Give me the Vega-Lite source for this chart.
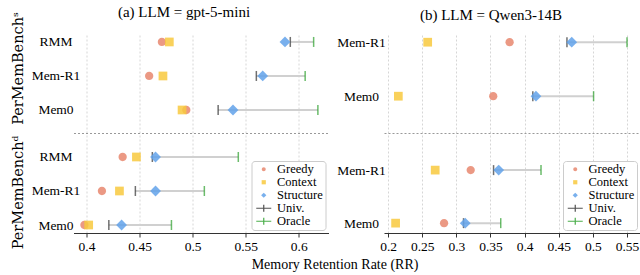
{
  "$schema": "https://vega.github.io/schema/vega-lite/v6.json",
  "padding": {"left": 9.5, "top": 5, "right": 0, "bottom": 0},
  "datasets": {
    "rr": [
      {"llm": "gpt-5-mini", "bench": "s", "sys": "RMM", "method": "Greedy", "rr": 0.471},
      {"llm": "gpt-5-mini", "bench": "s", "sys": "RMM", "method": "Context", "rr": 0.478},
      {"llm": "gpt-5-mini", "bench": "s", "sys": "RMM", "method": "Structure", "rr": 0.587},
      {"llm": "gpt-5-mini", "bench": "s", "sys": "RMM", "method": "Univ.", "rr": 0.592},
      {"llm": "gpt-5-mini", "bench": "s", "sys": "RMM", "method": "Oracle", "rr": 0.614},
      {"llm": "gpt-5-mini", "bench": "s", "sys": "Mem-R1", "method": "Greedy", "rr": 0.459},
      {"llm": "gpt-5-mini", "bench": "s", "sys": "Mem-R1", "method": "Context", "rr": 0.472},
      {"llm": "gpt-5-mini", "bench": "s", "sys": "Mem-R1", "method": "Structure", "rr": 0.566},
      {"llm": "gpt-5-mini", "bench": "s", "sys": "Mem-R1", "method": "Univ.", "rr": 0.560},
      {"llm": "gpt-5-mini", "bench": "s", "sys": "Mem-R1", "method": "Oracle", "rr": 0.606},
      {"llm": "gpt-5-mini", "bench": "s", "sys": "Mem0", "method": "Greedy", "rr": 0.494},
      {"llm": "gpt-5-mini", "bench": "s", "sys": "Mem0", "method": "Context", "rr": 0.490},
      {"llm": "gpt-5-mini", "bench": "s", "sys": "Mem0", "method": "Structure", "rr": 0.538},
      {"llm": "gpt-5-mini", "bench": "s", "sys": "Mem0", "method": "Univ.", "rr": 0.524},
      {"llm": "gpt-5-mini", "bench": "s", "sys": "Mem0", "method": "Oracle", "rr": 0.618},
      {"llm": "gpt-5-mini", "bench": "d", "sys": "RMM", "method": "Greedy", "rr": 0.434},
      {"llm": "gpt-5-mini", "bench": "d", "sys": "RMM", "method": "Context", "rr": 0.447},
      {"llm": "gpt-5-mini", "bench": "d", "sys": "RMM", "method": "Structure", "rr": 0.465},
      {"llm": "gpt-5-mini", "bench": "d", "sys": "RMM", "method": "Univ.", "rr": 0.462},
      {"llm": "gpt-5-mini", "bench": "d", "sys": "RMM", "method": "Oracle", "rr": 0.543},
      {"llm": "gpt-5-mini", "bench": "d", "sys": "Mem-R1", "method": "Greedy", "rr": 0.4145},
      {"llm": "gpt-5-mini", "bench": "d", "sys": "Mem-R1", "method": "Context", "rr": 0.431},
      {"llm": "gpt-5-mini", "bench": "d", "sys": "Mem-R1", "method": "Structure", "rr": 0.465},
      {"llm": "gpt-5-mini", "bench": "d", "sys": "Mem-R1", "method": "Univ.", "rr": 0.446},
      {"llm": "gpt-5-mini", "bench": "d", "sys": "Mem-R1", "method": "Oracle", "rr": 0.511},
      {"llm": "gpt-5-mini", "bench": "d", "sys": "Mem0", "method": "Greedy", "rr": 0.398},
      {"llm": "gpt-5-mini", "bench": "d", "sys": "Mem0", "method": "Context", "rr": 0.402},
      {"llm": "gpt-5-mini", "bench": "d", "sys": "Mem0", "method": "Structure", "rr": 0.433},
      {"llm": "gpt-5-mini", "bench": "d", "sys": "Mem0", "method": "Univ.", "rr": 0.421},
      {"llm": "gpt-5-mini", "bench": "d", "sys": "Mem0", "method": "Oracle", "rr": 0.480},
      {"llm": "Qwen3-14B", "bench": "s", "sys": "Mem-R1", "method": "Greedy", "rr": 0.378},
      {"llm": "Qwen3-14B", "bench": "s", "sys": "Mem-R1", "method": "Context", "rr": 0.258},
      {"llm": "Qwen3-14B", "bench": "s", "sys": "Mem-R1", "method": "Structure", "rr": 0.469},
      {"llm": "Qwen3-14B", "bench": "s", "sys": "Mem-R1", "method": "Univ.", "rr": 0.462},
      {"llm": "Qwen3-14B", "bench": "s", "sys": "Mem-R1", "method": "Oracle", "rr": 0.550},
      {"llm": "Qwen3-14B", "bench": "s", "sys": "Mem0", "method": "Greedy", "rr": 0.354},
      {"llm": "Qwen3-14B", "bench": "s", "sys": "Mem0", "method": "Context", "rr": 0.215},
      {"llm": "Qwen3-14B", "bench": "s", "sys": "Mem0", "method": "Structure", "rr": 0.4166},
      {"llm": "Qwen3-14B", "bench": "s", "sys": "Mem0", "method": "Univ.", "rr": 0.412},
      {"llm": "Qwen3-14B", "bench": "s", "sys": "Mem0", "method": "Oracle", "rr": 0.501},
      {"llm": "Qwen3-14B", "bench": "d", "sys": "Mem-R1", "method": "Greedy", "rr": 0.321},
      {"llm": "Qwen3-14B", "bench": "d", "sys": "Mem-R1", "method": "Context", "rr": 0.269},
      {"llm": "Qwen3-14B", "bench": "d", "sys": "Mem-R1", "method": "Structure", "rr": 0.362},
      {"llm": "Qwen3-14B", "bench": "d", "sys": "Mem-R1", "method": "Univ.", "rr": 0.3545},
      {"llm": "Qwen3-14B", "bench": "d", "sys": "Mem-R1", "method": "Oracle", "rr": 0.424},
      {"llm": "Qwen3-14B", "bench": "d", "sys": "Mem0", "method": "Greedy", "rr": 0.282},
      {"llm": "Qwen3-14B", "bench": "d", "sys": "Mem0", "method": "Context", "rr": 0.211},
      {"llm": "Qwen3-14B", "bench": "d", "sys": "Mem0", "method": "Structure", "rr": 0.313},
      {"llm": "Qwen3-14B", "bench": "d", "sys": "Mem0", "method": "Univ.", "rr": 0.3105},
      {"llm": "Qwen3-14B", "bench": "d", "sys": "Mem0", "method": "Oracle", "rr": 0.365}
    ]
  },
  "title": {"text": "Memory Retention Rate (RR)", "orient": "bottom", "anchor": "middle", "font": "Liberation Serif", "fontSize": 14, "fontWeight": "normal", "color": "black", "offset": 5, "dx": 10},
  "spacing": 7.5,
  "resolve": {"scale": {"color": "independent", "shape": "independent"}, "legend": {"color": "independent", "shape": "independent"}},
  "hconcat": [
    {
      "spacing": 0,
      "bounds": "flush",
      "resolve": {"scale": {"color": "independent", "shape": "independent"}, "legend": {"color": "independent", "shape": "independent"}},
      "vconcat": [
        {
          "width": 255, "height": 100,
          "title": {"text": "(a) LLM = gpt-5-mini", "font": "Liberation Serif", "fontSize": 15, "fontWeight": "normal", "anchor": "middle", "dx": -17, "offset": -8.5, "color": "black"},
          "data": {"name": "rr"},
          "transform": [{"filter": "datum.llm === 'gpt-5-mini' && datum.bench === 's'"}],
          "encoding": {
            "y": {"field": "sys", "type": "nominal", "scale": {"type": "point", "domain": ["RMM", "Mem-R1", "Mem0"], "padding": 0.47, "align": 0.28}, "axis": {"title": "PerMemBenchˢ", "titleY": 35, "labelAlign": "center", "labelPadding": 18, "titlePadding": 6}},
            "x": {"field": "rr", "type": "quantitative", "title": null, "scale": {"domain": [0.3877, 0.628], "nice": false, "zero": false}, "axis": {"values": [0.4, 0.45, 0.5, 0.55, 0.6], "labels": false, "ticks": false, "domainDash": [2, 2], "domainColor": "#999999", "domainWidth": 1, "title": null}}
          },
          "layer": [
            {"transform": [{"filter": "datum.method === 'Univ.' || datum.method === 'Oracle'"}], "mark": {"type": "rule", "color": "#d0d0d0", "strokeWidth": 2}, "encoding": {"x": {"aggregate": "min", "field": "rr", "type": "quantitative", "title": null}, "x2": {"aggregate": "max", "field": "rr"}}},
            {"transform": [{"filter": "datum.method === 'Univ.'"}], "mark": {"type": "tick", "orient": "vertical", "color": "#333333", "size": 10, "thickness": 1.5}},
            {"transform": [{"filter": "datum.method === 'Oracle'"}], "mark": {"type": "tick", "orient": "vertical", "color": "#2ca02c", "size": 10, "thickness": 1.5}},
            {"transform": [{"filter": "indexof(['Greedy','Context','Structure'], datum.method) >= 0"}], "mark": {"type": "point", "filled": true, "opacity": 0.85, "size": 432, "strokeWidth": 0},
             "encoding": {
               "color": {"field": "method", "type": "nominal", "scale": {"domain": ["Greedy", "Context", "Structure", "Univ.", "Oracle"], "range": ["#e8876f", "#f8c93e", "#62a2ea", "#333333", "#2ca02c"]}, "legend": null},
               "shape": {"field": "method", "type": "nominal", "scale": {"domain": ["Greedy", "Context", "Structure", "Univ.", "Oracle"], "range": ["M-0.4,0A0.4,0.4,0,1,0,0.4,0A0.4,0.4,0,1,0,-0.4,0Z", "M-0.42,-0.42H0.42V0.42H-0.42Z", "M0,-0.52L0.52,0L0,0.52L-0.52,0Z", "M-1.5,-0.1H1.5V0.1H-1.5ZM-0.12,-0.7H0.12V0.7H-0.12Z", "M-1.5,-0.1H1.5V0.1H-1.5ZM-0.12,-0.7H0.12V0.7H-0.12Z"]}, "legend": null}
             }}
          ]
        },
        {
          "width": 255, "height": 100,
          "data": {"name": "rr"},
          "transform": [{"filter": "datum.llm === 'gpt-5-mini' && datum.bench === 'd'"}],
          "encoding": {
            "y": {"field": "sys", "type": "nominal", "scale": {"type": "point", "domain": ["RMM", "Mem-R1", "Mem0"], "padding": 0.47, "align": 0.75}, "axis": {"title": "PerMemBenchᵈ", "titleY": 59, "labelAlign": "center", "labelPadding": 18, "titlePadding": 6}},
            "x": {"field": "rr", "type": "quantitative", "title": null, "scale": {"domain": [0.3877, 0.628], "nice": false, "zero": false}, "axis": {"values": [0.4, 0.45, 0.5, 0.55, 0.6], "format": "~g", "title": null}}
          },
          "layer": [
            {"transform": [{"filter": "datum.method === 'Univ.' || datum.method === 'Oracle'"}], "mark": {"type": "rule", "color": "#d0d0d0", "strokeWidth": 2}, "encoding": {"x": {"aggregate": "min", "field": "rr", "type": "quantitative", "title": null}, "x2": {"aggregate": "max", "field": "rr"}}},
            {"transform": [{"filter": "datum.method === 'Univ.'"}], "mark": {"type": "tick", "orient": "vertical", "color": "#333333", "size": 10, "thickness": 1.5}},
            {"transform": [{"filter": "datum.method === 'Oracle'"}], "mark": {"type": "tick", "orient": "vertical", "color": "#2ca02c", "size": 10, "thickness": 1.5}},
            {"transform": [{"filter": "indexof(['Greedy','Context','Structure'], datum.method) >= 0"}], "mark": {"type": "point", "filled": true, "opacity": 0.85, "size": 432, "strokeWidth": 0},
             "encoding": {
               "color": {"field": "method", "type": "nominal", "scale": {"domain": ["Greedy", "Context", "Structure", "Univ.", "Oracle"], "range": ["#e8876f", "#f8c93e", "#62a2ea", "#333333", "#2ca02c"]}, "legend": {"title": null, "orient": "bottom-right", "offset": 3}},
               "shape": {"field": "method", "type": "nominal", "scale": {"domain": ["Greedy", "Context", "Structure", "Univ.", "Oracle"], "range": ["M-0.4,0A0.4,0.4,0,1,0,0.4,0A0.4,0.4,0,1,0,-0.4,0Z", "M-0.42,-0.42H0.42V0.42H-0.42Z", "M0,-0.52L0.52,0L0,0.52L-0.52,0Z", "M-1.5,-0.1H1.5V0.1H-1.5ZM-0.12,-0.7H0.12V0.7H-0.12Z", "M-1.5,-0.1H1.5V0.1H-1.5ZM-0.12,-0.7H0.12V0.7H-0.12Z"]}, "legend": {"title": null, "orient": "bottom-right", "offset": 3}}
             }}
          ]
        }
      ]
    },
    {
      "spacing": 0,
      "bounds": "flush",
      "resolve": {"scale": {"color": "independent", "shape": "independent"}, "legend": {"color": "independent", "shape": "independent"}},
      "vconcat": [
        {
          "width": 256, "height": 100,
          "title": {"text": "(b) LLM = Qwen3-14B", "font": "Liberation Serif", "fontSize": 15, "fontWeight": "normal", "anchor": "middle", "dx": -21, "offset": 10, "color": "black"},
          "data": {"name": "rr"},
          "transform": [{"filter": "datum.llm === 'Qwen3-14B' && datum.bench === 's'"}],
          "encoding": {
            "y": {"field": "sys", "type": "nominal", "scale": {"type": "point", "domain": ["Mem-R1", "Mem0"], "padding": 0.426, "align": 0.2}, "axis": {"title": null, "labelAlign": "center", "labelPadding": 23}},
            "x": {"field": "rr", "type": "quantitative", "title": null, "scale": {"domain": [0.194, 0.569], "nice": false, "zero": false}, "axis": {"values": [0.2, 0.25, 0.3, 0.35, 0.4, 0.45, 0.5, 0.55], "labels": false, "ticks": false, "domainDash": [2, 2], "domainColor": "#999999", "domainWidth": 1, "title": null}}
          },
          "layer": [
            {"transform": [{"filter": "datum.method === 'Univ.' || datum.method === 'Oracle'"}], "mark": {"type": "rule", "color": "#d0d0d0", "strokeWidth": 2}, "encoding": {"x": {"aggregate": "min", "field": "rr", "type": "quantitative", "title": null}, "x2": {"aggregate": "max", "field": "rr"}}},
            {"transform": [{"filter": "datum.method === 'Univ.'"}], "mark": {"type": "tick", "orient": "vertical", "color": "#333333", "size": 10, "thickness": 1.5}},
            {"transform": [{"filter": "datum.method === 'Oracle'"}], "mark": {"type": "tick", "orient": "vertical", "color": "#2ca02c", "size": 10, "thickness": 1.5}},
            {"transform": [{"filter": "indexof(['Greedy','Context','Structure'], datum.method) >= 0"}], "mark": {"type": "point", "filled": true, "opacity": 0.85, "size": 432, "strokeWidth": 0},
             "encoding": {
               "color": {"field": "method", "type": "nominal", "scale": {"domain": ["Greedy", "Context", "Structure", "Univ.", "Oracle"], "range": ["#e8876f", "#f8c93e", "#62a2ea", "#333333", "#2ca02c"]}, "legend": null},
               "shape": {"field": "method", "type": "nominal", "scale": {"domain": ["Greedy", "Context", "Structure", "Univ.", "Oracle"], "range": ["M-0.4,0A0.4,0.4,0,1,0,0.4,0A0.4,0.4,0,1,0,-0.4,0Z", "M-0.42,-0.42H0.42V0.42H-0.42Z", "M0,-0.52L0.52,0L0,0.52L-0.52,0Z", "M-1.5,-0.1H1.5V0.1H-1.5ZM-0.12,-0.7H0.12V0.7H-0.12Z", "M-1.5,-0.1H1.5V0.1H-1.5ZM-0.12,-0.7H0.12V0.7H-0.12Z"]}, "legend": null}
             }}
          ]
        },
        {
          "width": 256, "height": 100,
          "data": {"name": "rr"},
          "transform": [{"filter": "datum.llm === 'Qwen3-14B' && datum.bench === 'd'"}],
          "encoding": {
            "y": {"field": "sys", "type": "nominal", "scale": {"type": "point", "domain": ["Mem-R1", "Mem0"], "padding": 0.443, "align": 0.79}, "axis": {"title": null, "labelAlign": "center", "labelPadding": 23}},
            "x": {"field": "rr", "type": "quantitative", "title": null, "scale": {"domain": [0.194, 0.569], "nice": false, "zero": false}, "axis": {"values": [0.2, 0.25, 0.3, 0.35, 0.4, 0.45, 0.5, 0.55], "format": "~g", "title": null}}
          },
          "layer": [
            {"transform": [{"filter": "datum.method === 'Univ.' || datum.method === 'Oracle'"}], "mark": {"type": "rule", "color": "#d0d0d0", "strokeWidth": 2}, "encoding": {"x": {"aggregate": "min", "field": "rr", "type": "quantitative", "title": null}, "x2": {"aggregate": "max", "field": "rr"}}},
            {"transform": [{"filter": "datum.method === 'Univ.'"}], "mark": {"type": "tick", "orient": "vertical", "color": "#333333", "size": 10, "thickness": 1.5}},
            {"transform": [{"filter": "datum.method === 'Oracle'"}], "mark": {"type": "tick", "orient": "vertical", "color": "#2ca02c", "size": 10, "thickness": 1.5}},
            {"transform": [{"filter": "indexof(['Greedy','Context','Structure'], datum.method) >= 0"}], "mark": {"type": "point", "filled": true, "opacity": 0.85, "size": 432, "strokeWidth": 0},
             "encoding": {
               "color": {"field": "method", "type": "nominal", "scale": {"domain": ["Greedy", "Context", "Structure", "Univ.", "Oracle"], "range": ["#e8876f", "#f8c93e", "#62a2ea", "#333333", "#2ca02c"]}, "legend": {"title": null, "orient": "bottom-right", "offset": 3}},
               "shape": {"field": "method", "type": "nominal", "scale": {"domain": ["Greedy", "Context", "Structure", "Univ.", "Oracle"], "range": ["M-0.4,0A0.4,0.4,0,1,0,0.4,0A0.4,0.4,0,1,0,-0.4,0Z", "M-0.42,-0.42H0.42V0.42H-0.42Z", "M0,-0.52L0.52,0L0,0.52L-0.52,0Z", "M-1.5,-0.1H1.5V0.1H-1.5ZM-0.12,-0.7H0.12V0.7H-0.12Z", "M-1.5,-0.1H1.5V0.1H-1.5ZM-0.12,-0.7H0.12V0.7H-0.12Z"]}, "legend": {"title": null, "orient": "bottom-right", "offset": 3}}
             }}
          ]
        }
      ]
    }
  ],
  "config": {
    "view": {"stroke": null},
    "font": "Liberation Serif",
    "axisX": {"grid": true, "gridColor": "#cccccc", "gridDash": [2, 2], "gridWidth": 0.8, "domainColor": "#333333", "domainWidth": 1.2, "tickColor": "#333333", "tickSize": 4, "tickWidth": 1, "labelFont": "Liberation Serif", "labelFontSize": 13.5, "labelPadding": 2, "labelColor": "black", "labelFlush": false},
    "axisY": {"grid": false, "domain": false, "ticks": false, "labelFont": "Liberation Serif", "labelFontSize": 13.5, "labelColor": "black", "titleFont": "DejaVu Serif", "titleFontSize": 14.5, "titleFontWeight": "normal", "titleColor": "black"},
    "legend": {"padding": 2, "symbolOffset": 4, "fillColor": "white", "strokeColor": "#cccccc", "cornerRadius": 3, "labelFont": "Liberation Serif", "labelFontSize": 12.5, "labelColor": "black", "symbolSize": 100, "labelOffset": 7, "rowPadding": -0.5, "symbolStrokeWidth": 0}
  }
}
